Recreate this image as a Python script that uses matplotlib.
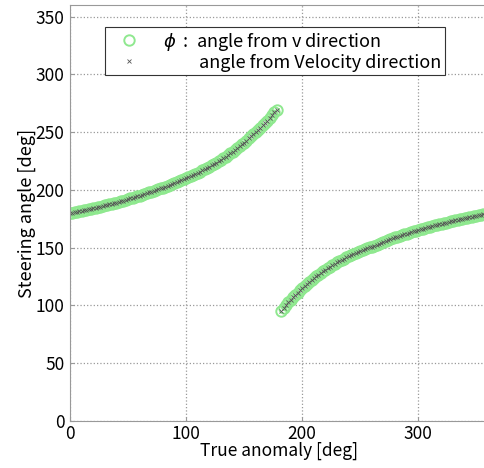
import numpy as np
import matplotlib
matplotlib.use("Agg")
import matplotlib.pyplot as plt

plt.rcParams['font.family'] = ['Noto Sans CJK JP', 'DejaVu Sans']
plt.rcParams['mathtext.fontset'] = 'dejavusans'

# first branch, true anomaly 0..178 deg
nu1 = list(range(0, 180, 2))
phi1 = [180.0, 180.4, 180.8, 181.2, 181.6, 182.0, 182.4, 182.8, 183.2, 183.6,
        184.0, 184.5, 185.0, 185.5, 186.0, 186.5, 187.0, 187.5, 188.0, 188.5,
        189.0, 189.6, 190.2, 190.8, 191.4, 192.0, 192.6, 193.2, 193.8, 194.4,
        195.0, 195.7, 196.4, 197.1, 197.8, 198.5, 199.2, 199.9, 200.6, 201.3,
        202.0, 202.8, 203.5, 204.3, 205.1, 205.9, 206.7, 207.5, 208.3, 209.1,
        210.0, 210.9, 211.9, 212.8, 213.8, 214.8, 215.8, 216.8, 217.9, 218.9,
        220.0, 221.2, 222.4, 223.6, 224.8, 226.1, 227.4, 228.7, 230.1, 231.5,
        233.0, 234.5, 236.1, 237.7, 239.3, 241.0, 242.7, 244.5, 246.3, 248.1,
        250.0, 251.9, 253.8, 255.8, 257.9, 260.0, 262.3, 264.6, 267.0, 269.4]

# second branch, true anomaly 182..360 deg
nu2 = list(range(182, 361, 2))
phi2 = [95.6, 98.1, 100.5, 102.8, 105.0, 107.1, 109.1, 111.1, 113.1, 115.0,
        116.8, 118.6, 120.3, 122.0, 123.6, 125.2, 126.7, 128.2, 129.6, 131.0,
        132.3, 133.6, 134.9, 136.1, 137.3, 138.4, 139.5, 140.6, 141.7, 142.7,
        143.6, 144.5, 145.4, 146.3, 147.1, 147.9, 148.7, 149.5, 150.3, 151.0,
        151.8, 152.6, 153.4, 154.2, 155.0, 155.8, 156.5, 157.3, 158.0, 158.8,
        159.5, 160.1, 160.8, 161.5, 162.2, 162.8, 163.5, 164.1, 164.8, 165.4,
        166.0, 166.5, 167.1, 167.6, 168.2, 168.7, 169.2, 169.7, 170.2, 170.7,
        171.2, 171.7, 172.2, 172.7, 173.2, 173.6, 174.1, 174.6, 175.0, 175.5,
        175.9, 176.4, 176.8, 177.3, 177.7, 178.1, 178.5, 179.0, 179.4, 179.8]

nu = nu1 + nu2
phi = phi1 + phi2

fig = plt.figure(figsize=(4.85, 4.68), dpi=100)
ax = fig.add_axes([70 / 485, 47 / 468, 418 / 485, 416 / 468])

ax.plot(nu, phi, 'o', ms=7.5, mfc='none', mec='#8fe88f', mew=1.4,
        label=r'$\phi$  :  angle from v direction')
ax.plot(nu, phi, 'x', ms=3.5, color='#555555', mew=0.6,
        label='         angle from Velocity direction')

ax.set_xlim(0, 360)
ax.set_ylim(0, 360)
ax.set_xticks([0, 100, 200, 300])
ax.set_yticks(range(0, 351, 50))
ax.grid(True, linestyle=':', color='#999999', linewidth=0.9)
ax.tick_params(direction='in', length=3, labelsize=12.5, color='#999999')
ax.tick_params(axis='x', pad=3)
ax.tick_params(axis='y', pad=4)
for s in ax.spines.values():
    s.set_color('#999999')

ax.set_xlabel('True anomaly [deg]', fontsize=12.5, labelpad=-1)
ax.set_ylabel('Steering angle [deg]', fontsize=13, labelpad=0)

leg = ax.legend(loc='upper left', bbox_to_anchor=(0.084, 0.947), borderaxespad=0,
                fontsize=13, fancybox=False, framealpha=1, edgecolor='#333333',
                handletextpad=0.8, borderpad=0.2, labelspacing=0.05, handlelength=2.2)
leg.get_frame().set_linewidth(0.8)

fig.savefig('out.png', dpi=100)
